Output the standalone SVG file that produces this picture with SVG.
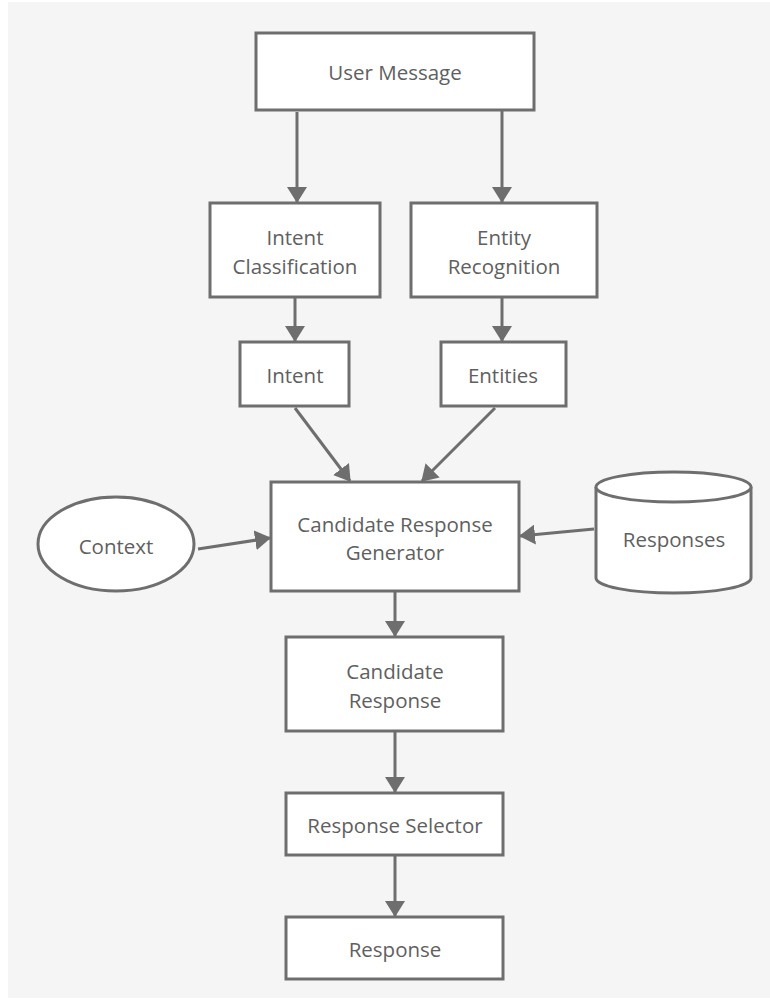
<svg xmlns="http://www.w3.org/2000/svg" width="770" height="1004" viewBox="0 0 770 1004">
<style>
.box{fill:#ffffff;stroke:#6e6e6e;stroke-width:3}
.t{font-family:"Open Sans","Noto Sans",sans-serif;font-size:20.5px;fill:#606060;text-anchor:middle}
.c{stroke:#6e6e6e;stroke-width:3;fill:none;marker-end:url(#ah)}
</style>
<defs>
<marker id="ah" viewBox="0 0 16 20" refX="15" refY="10" markerWidth="16" markerHeight="20" markerUnits="userSpaceOnUse" orient="auto">
<path d="M0,0 L16,10 L0,20 z" fill="#6e6e6e"/>
</marker>
</defs>
<rect x="0" y="0" width="770" height="1004" fill="#ffffff"/>
<rect x="8" y="2" width="762" height="996" fill="#f5f5f5"/>
<g id="connectors">
<line class="c" x1="297" y1="112" x2="297" y2="202"/>
<line class="c" x1="502" y1="110" x2="502" y2="202"/>
<line class="c" x1="295" y1="297" x2="295" y2="341"/>
<line class="c" x1="502" y1="297" x2="502" y2="341"/>
<line class="c" x1="295" y1="408" x2="350" y2="481"/>
<line class="c" x1="495" y1="408" x2="422" y2="481"/>
<line class="c" x1="198" y1="549" x2="270" y2="538"/>
<line class="c" x1="594" y1="529" x2="520" y2="536"/>
<line class="c" x1="395" y1="591" x2="395" y2="636"/>
<line class="c" x1="395" y1="731" x2="395" y2="792"/>
<line class="c" x1="395" y1="855" x2="395" y2="916"/>
</g>
<g id="user-message">
<rect class="box" x="256" y="33" width="278" height="77"/>
<text class="t" x="395" y="80">User Message</text>
</g>
<g id="intent-classification">
<rect class="box" x="210" y="203" width="170" height="94"/>
<text class="t" x="295" y="245">Intent</text>
<text class="t" x="295" y="274">Classification</text>
</g>
<g id="entity-recognition">
<rect class="box" x="411" y="203" width="186" height="94"/>
<text class="t" x="504" y="245">Entity</text>
<text class="t" x="504" y="274">Recognition</text>
</g>
<g id="intent">
<rect class="box" x="240" y="342" width="109" height="64"/>
<text class="t" x="295" y="383">Intent</text>
</g>
<g id="entities">
<rect class="box" x="441" y="342" width="125" height="64"/>
<text class="t" x="503" y="383">Entities</text>
</g>
<g id="candidate-response-generator">
<rect class="box" x="271" y="482" width="248" height="109"/>
<text class="t" x="395" y="532">Candidate Response</text>
<text class="t" x="395" y="560">Generator</text>
</g>
<g id="context">
<ellipse class="box" cx="116" cy="544" rx="78" ry="47"/>
<text class="t" x="116" y="554">Context</text>
</g>
<g id="responses">
<path class="box" d="M596,487 L596,578 A77.5,15 0 0 0 751,578 L751,487"/>
<ellipse class="box" cx="673.5" cy="487" rx="77.5" ry="15"/>
<text class="t" x="674" y="547">Responses</text>
</g>
<g id="candidate-response">
<rect class="box" x="286" y="637" width="217" height="94"/>
<text class="t" x="395" y="679">Candidate</text>
<text class="t" x="395" y="708">Response</text>
</g>
<g id="response-selector">
<rect class="box" x="286" y="793" width="217" height="62"/>
<text class="t" x="395" y="833">Response Selector</text>
</g>
<g id="response">
<rect class="box" x="286" y="917" width="217" height="62"/>
<text class="t" x="395" y="957">Response</text>
</g>
</svg>
